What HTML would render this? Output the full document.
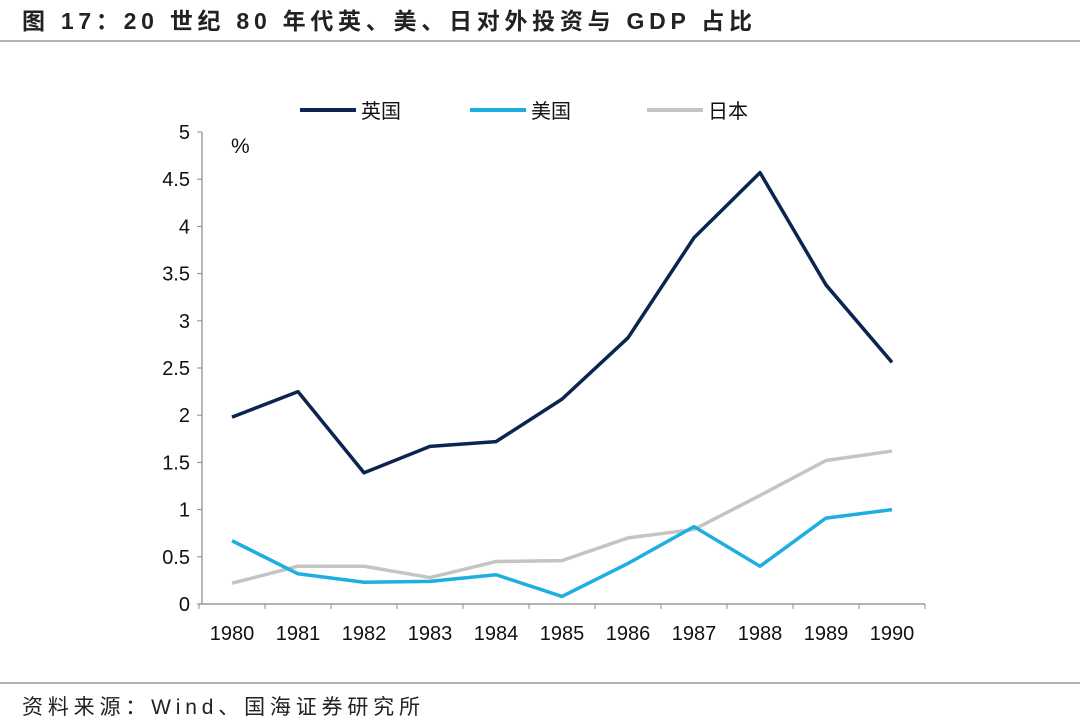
<!DOCTYPE html>
<html><head><meta charset="utf-8"><style>
body{margin:0;background:#fff;}
svg{display:block;font-family:"Liberation Sans","Noto Sans CJK SC",sans-serif;}
</style></head><body>
<svg id="c" width="1080" height="722">
<text x="22" y="29" font-size="23" font-weight="bold" fill="#222" textLength="730" lengthAdjust="spacing">图 17：20 世纪 80 年代英、美、日对外投资与 GDP 占比</text>
<line x1="0" y1="41" x2="1080" y2="41" stroke="#999" stroke-width="1.5"/>
<line x1="0" y1="683" x2="1080" y2="683" stroke="#999" stroke-width="1.5"/>
<text x="22" y="714" font-size="21" fill="#222" textLength="398" lengthAdjust="spacing">资料来源：Wind、国海证券研究所</text>
<text x="231" y="153" font-size="21" fill="#111">%</text>
<g id="axes"></g><g id="series"></g><g id="legend"></g>
</svg>
<script>
const years=["1980","1981","1982","1983","1984","1985","1986","1987","1988","1989","1990"];
const ukValues=[1.98,2.25,1.39,1.67,1.72,2.17,2.82,3.88,4.57,3.38,2.56];
const usValues=[0.67,0.32,0.23,0.24,0.31,0.08,0.43,0.82,0.40,0.91,1.00];
const jpValues=[0.22,0.40,0.40,0.28,0.45,0.46,0.70,0.79,1.15,1.52,1.62];
const yTicks=[0,0.5,1,1.5,2,2.5,3,3.5,4,4.5,5];
const seriesNames=["英国","美国","日本"];
const NS="http://www.w3.org/2000/svg";
const x0=199,step=66,y0=604,yMax=5,yTop=132;
const X=i=>x0+step*(i+0.5);
const Y=v=>y0-(v/yMax)*(y0-yTop);
function mk(t,a,p){const e=document.createElementNS(NS,t);for(const k in a)e.setAttribute(k,a[k]);p.appendChild(e);return e;}
const ax=document.getElementById('axes');
const ya=mk('line',{x1:202,y1:yTop,x2:202,y2:y0,stroke:'#888','stroke-width':1.2},ax);


const xa=mk('line',{x1:199,y1:y0,x2:x0+step*years.length,y2:y0,stroke:'#888','stroke-width':1.2},ax);


yTicks.forEach(v=>{
 const t=mk('line',{x1:197,y1:Y(v),x2:202,y2:Y(v),stroke:'#888'},ax);
 
 
 const l=mk('text',{x:190,y:Y(v)+7,'font-size':20,'text-anchor':'end',fill:'#111'},ax);
 l.textContent=String(v);
 
 
});
for(let i=0;i<=years.length;i++){
 const t=mk('line',{x1:x0+step*i,y1:y0,x2:x0+step*i,y2:y0+5,stroke:'#888'},ax);
 
 
}
years.forEach((y,i)=>{
 const l=mk('text',{x:X(i),y:640,'font-size':20,'text-anchor':'middle',fill:'#111'},ax);
 l.textContent=y;
 
 
});
const colors=["#0d2451","#1eaee0","#c4c4c4"];
const data=[ukValues,usValues,jpValues];
const sg=document.getElementById('series');
[2,1,0].forEach(s=>{
 const p=mk('polyline',{points:data[s].map((v,i)=>X(i)+','+Y(v)).join(' '),fill:'none',stroke:colors[s],'stroke-width':3.5,'stroke-linejoin':'round'},sg);
 
 
});
const lg=document.getElementById('legend');
const lx=[300,470,647];
seriesNames.forEach((n,s)=>{
 const l=mk('line',{x1:lx[s],y1:110,x2:lx[s]+56,y2:110,stroke:colors[s],'stroke-width':4},lg);
 
 
 const t=mk('text',{x:lx[s]+61,y:118,'font-size':20,fill:'#111'},lg);
 t.textContent=n;
 
 
});
</script>
</body></html>
